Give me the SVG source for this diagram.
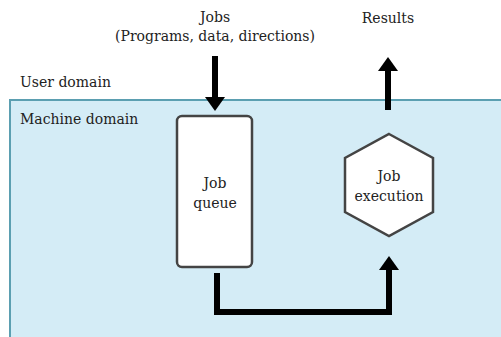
<svg xmlns="http://www.w3.org/2000/svg" width="501" height="337" viewBox="0 0 501 337">
<defs>
<style>
text{font-family:"DejaVu Serif",serif;font-size:14px;fill:#222}
.c{text-anchor:middle}
.node{fill:#fff;stroke:#444;stroke-width:2.5}
.conn{fill:none;stroke:#000;stroke-width:6}
.head{fill:#000}
</style>
</defs>
<rect width="501" height="337" fill="#fff"/>
<g id="machine-domain">
<rect x="10" y="100" width="500" height="250" fill="#d4ecf6" stroke="#5b9fb1" stroke-width="2"/>
</g>
<text x="20" y="87">User domain</text>
<text x="20" y="124">Machine domain</text>
<text class="c" x="215" y="22">Jobs</text>
<text class="c" x="215" y="41">(Programs, data, directions)</text>
<text class="c" x="388" y="23">Results</text>
<g id="job-queue">
<rect class="node" x="177" y="116" width="75" height="151" rx="5"/>
<text class="c" x="215" y="188">Job</text>
<text class="c" x="215" y="208">queue</text>
</g>
<g id="job-execution">
<polygon class="node" points="389,134 433,158 433,212 389,236 345,212 345,158"/>
<text class="c" x="389" y="181">Job</text>
<text class="c" x="389" y="201">execution</text>
</g>
<g id="connectors">
<path class="conn" d="M215,56V98"/>
<polygon class="head" points="205,97 225,97 215,111"/>
<path class="conn" d="M388,110V70"/>
<polygon class="head" points="378,71 398,71 388,57"/>
<path class="conn" d="M217,273V312H389V269"/>
<polygon class="head" points="379,270 399,270 389,256"/>
</g>
</svg>
